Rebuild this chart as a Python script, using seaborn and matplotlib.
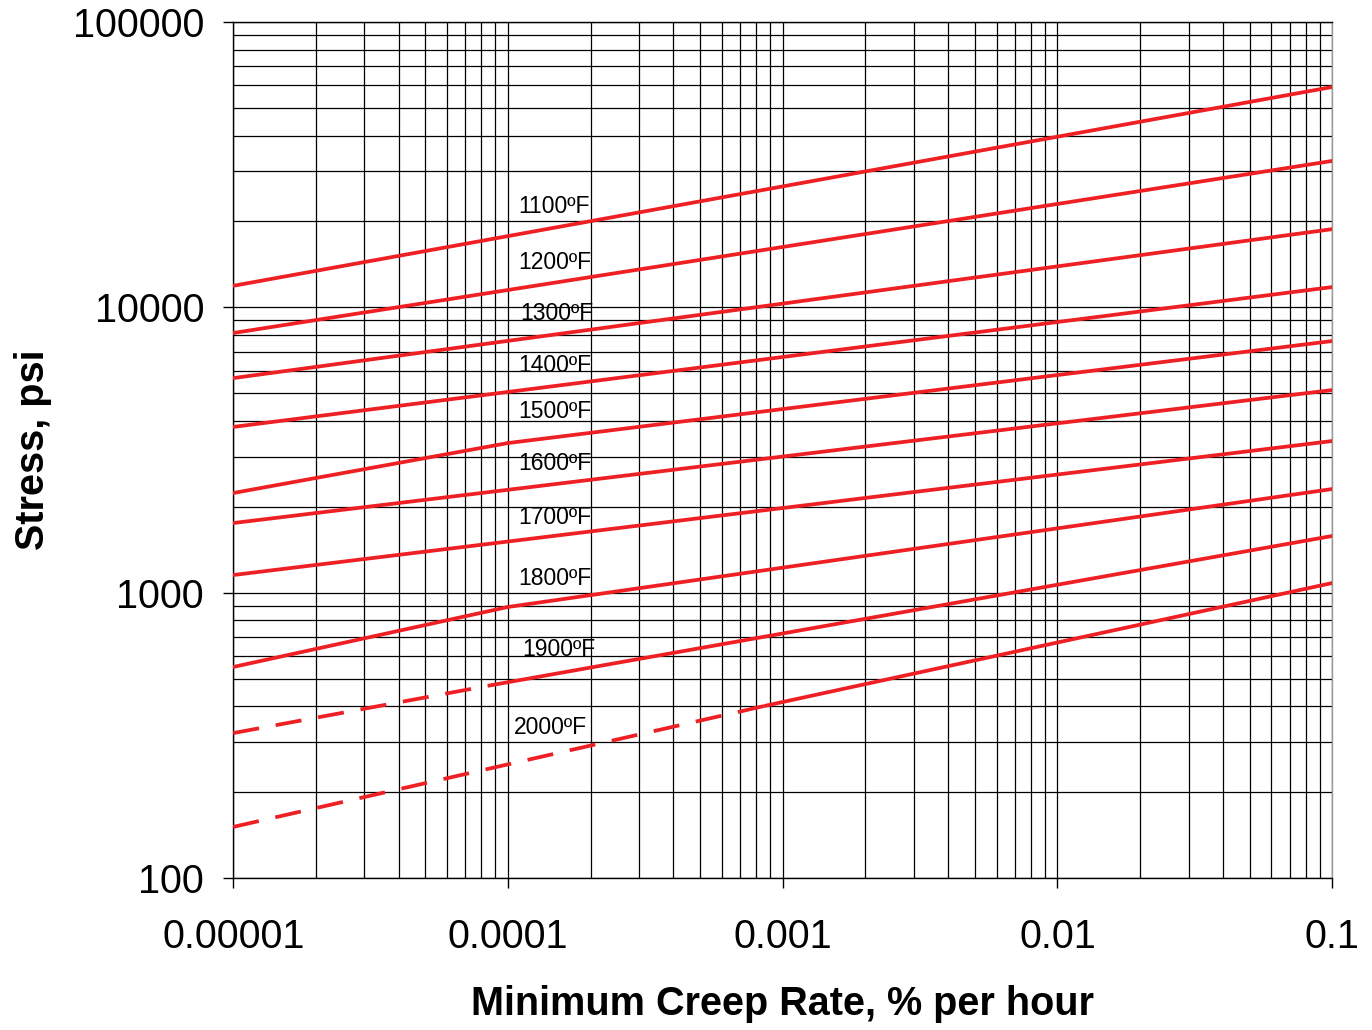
import numpy as np
import pandas as pd
import seaborn as sns
from matplotlib import pyplot as plt
from matplotlib.ticker import LogLocator, FixedLocator, NullFormatter

# temperature labels, top line first
temps = ["1100ºF", "1200ºF", "1300ºF", "1400ºF", "1500ºF",
         "1600ºF", "1700ºF", "1800ºF", "1900ºF", "2000ºF"]

# stress (psi) at creep rate 0.00001 and 0.1 %/h
stress_lo = [11900, 8130, 5650, 3810, 2235, 1754, 1153, 549, 322, 151]
stress_hi = [59200, 32600, 18800, 11780, 7620, 5130, 3400, 2308, 1580, 1081]

# break points: (temperature, creep rate, stress)
knee_temp = ["1500ºF", "1800ºF", "1900ºF", "2000ºF"]
knee_rate = [0.0001, 0.0001, 0.000088, 0.00086]
knee_stress = [3345, 891, 475, 401]
# curves whose first piece is extrapolated (dashed)
dashed_temps = ["1900ºF", "2000ºF"]

# label anchors (left edge of text)
label_rate = [0.000109, 0.000109, 0.000111, 0.000109, 0.000109,
              0.000109, 0.000109, 0.000109, 0.000113, 0.000105]
label_stress = [22500, 14400, 9480, 6230, 4300, 2825, 1827, 1125, 630, 336]

xticks = [0.00001, 0.0001, 0.001, 0.01, 0.1]
xtick_labels = ["0.00001", "0.0001", "0.001", "0.01", "0.1"]
yticks = [100, 1000, 10000, 100000]
ytick_labels = ["100", "1000", "10000", "100000"]

# long-form table, one row per vertex
rows = []
for i, t in enumerate(temps):
    if t in knee_temp:
        k = knee_temp.index(t)
        first = "dashed" if t in dashed_temps else "solid"
        rows.append((t + "a", first, 0.00001, stress_lo[i]))
        rows.append((t + "a", first, knee_rate[k], knee_stress[k]))
        rows.append((t + "b", "solid", knee_rate[k], knee_stress[k]))
        rows.append((t + "b", "solid", 0.1, stress_hi[i]))
    else:
        rows.append((t, "solid", 0.00001, stress_lo[i]))
        rows.append((t, "solid", 0.1, stress_hi[i]))
df = pd.DataFrame(rows, columns=["seg", "kind", "rate", "stress"])

sns.set_style("white")
plt.rcParams["font.family"] = ["Liberation Sans", "DejaVu Sans"]
plt.rcParams["text.color"] = "black"
plt.rcParams["axes.labelcolor"] = "black"
plt.rcParams["xtick.color"] = "black"
plt.rcParams["ytick.color"] = "black"

fig = plt.figure(figsize=(13.72, 10.30), dpi=100)
ax = fig.add_axes([0.170, 0.1476, 0.801, 0.831])

ax.set_xscale("log")
ax.set_yscale("log")

sns.lineplot(data=df, x="rate", y="stress", units="seg", style="kind",
             estimator=None, sort=False, color="#ee2024", linewidth=2.7,
             dashes={"solid": "", "dashed": (7, 4.5)}, legend=False, ax=ax,
             zorder=3)

for t, xr, ys in zip(temps, label_rate, label_stress):
    ax.text(xr, ys, t, fontsize=16.5, ha="left", va="center", zorder=4)

ax.set_xlim(0.00001, 0.1)
ax.set_ylim(100, 100000)
ax.xaxis.set_major_locator(FixedLocator(xticks))
ax.set_xticklabels(xtick_labels)
ax.yaxis.set_major_locator(FixedLocator(yticks))
ax.set_yticklabels(ytick_labels)
ax.xaxis.set_minor_locator(LogLocator(base=10, subs=np.arange(2, 10)))
ax.yaxis.set_minor_locator(LogLocator(base=10, subs=np.arange(2, 10)))
ax.xaxis.set_minor_formatter(NullFormatter())
ax.yaxis.set_minor_formatter(NullFormatter())

ax.grid(which="both", color="black", linewidth=0.9)
ax.tick_params(which="major", direction="out", length=7, width=1,
               bottom=True, left=True, labelsize=28.5)
ax.tick_params(axis="y", which="major", pad=14)
ax.tick_params(axis="x", which="major", pad=22)
ax.tick_params(which="minor", length=0)
for s in ax.spines.values():
    s.set_color("black")
    s.set_linewidth(1)
ax.spines["right"].set_color("#999999")

ax.set_xlabel("Minimum Creep Rate, % per hour", fontsize=28.5,
              fontweight="bold", labelpad=21)
ax.set_ylabel("Stress, psi", fontsize=28.5, fontweight="bold", labelpad=15)

fig.savefig("out.png", dpi=100)
